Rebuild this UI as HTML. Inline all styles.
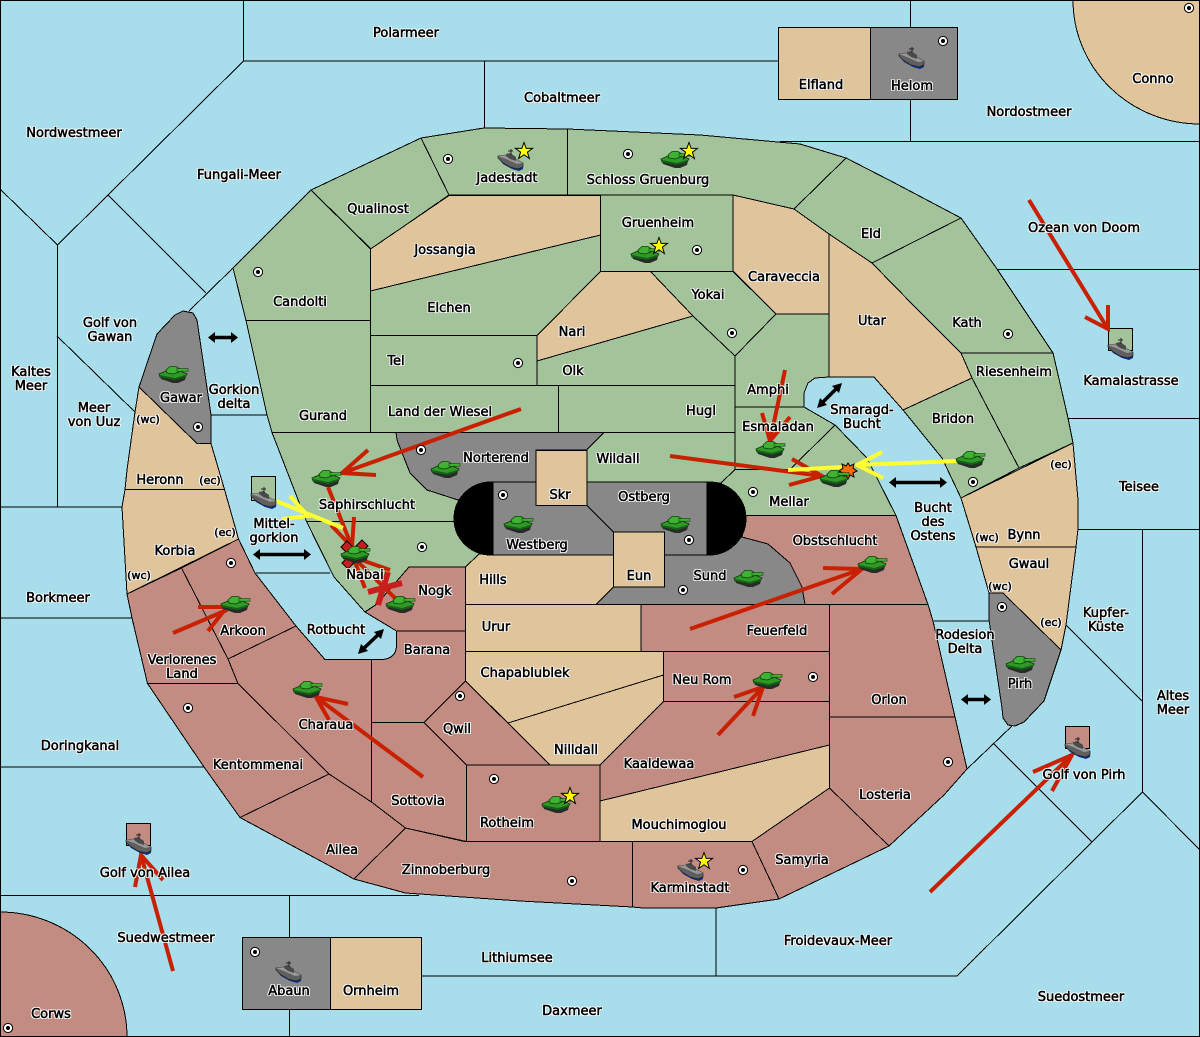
<!DOCTYPE html>
<html><head><meta charset="utf-8"><title>Map</title>
<style>
html,body{margin:0;padding:0;background:#a8ddeb}
#m{position:relative;width:1200px;height:1037px;overflow:hidden}
svg{position:absolute;left:0;top:0}
i{position:absolute;width:200px;margin-left:-100px;margin-top:2px;text-align:center;font:normal 13px/14px "DejaVu Sans",sans-serif;color:#000;-webkit-text-stroke:.55px #000;text-shadow:1px 0 #fff,-1px 0 #fff,0 1px #fff,0 -1px #fff,1px 1px #fff,-1px -1px #fff,1px -1px #fff,-1px 1px #fff;white-space:nowrap}
i.s{font-size:11px;margin-top:1px}
.g polygon,.g path,.g rect{stroke:#000;stroke-width:1}
.G{fill:#a3c49a}.T{fill:#e0c49c}.R{fill:#c28c82}.N{fill:#888}
.l path{fill:none;stroke:#000;stroke-width:1}
.r path{fill:none;stroke:#c82000;stroke-width:4}
.y path{fill:none;stroke:#ffff33;stroke-width:4}
.k path{fill:none;stroke:#000;stroke-width:3.5}
.k polygon{fill:#000}
</style></head><body><div id="m">
<svg width="1200" height="1037" viewBox="0 0 1200 1037" xmlns="http://www.w3.org/2000/svg">
<defs>
<symbol id="tk" viewBox="0 0 29 17" width="29" height="17" overflow="visible">
<polygon points="1,10 2,13 14,17 19,17 26,14 27,10 15,11" fill="#2a2a2a"/>
<polygon points="0,8 7,5 21,5 28,8 26,11 16,14 1,11" fill="#2f9a25" stroke="#0f3f0b" stroke-width=".9"/>
<polygon points="1,9 16,12 26,9 26,11 16,14 1,11" fill="#17601a"/>
<polygon points="7,4 11,.5 17,.5 21,3 20,6 14,8 8,7" fill="#3fb233" stroke="#0f3f0b" stroke-width=".8"/>
<rect x="18" y="2.6" width="11" height="2.6" fill="#3fb233" stroke="#0f3f0b" stroke-width=".6"/>
</symbol>
<symbol id="sh" viewBox="0 0 25 22" width="25" height="22" overflow="visible">
<polygon points="0,9 5,15 14,20 21,22 25,20 25,16 10,11" fill="#0b2d8c"/>
<polygon points="0,7 9,6 25,14 25,18 20,20 12,18 4,13 0,9" fill="#5f5f5f" stroke="#222" stroke-width=".7"/>
<polygon points="0,7 9,6 25,14 19,15 8,10" fill="#999"/>
<polygon points="8,5 12,4 18,8 18,12 12,10 8,7" fill="#4a4a4a"/>
<path d="M13,0V6M10,2H15" stroke="#222" fill="none" stroke-width="1"/>
</symbol>
<symbol id="st" viewBox="-9 -9 18 18" width="18" height="18" overflow="visible">
<polygon points="0,-8.5 2.2,-2.6 8.5,-2.6 3.4,1.2 5.4,7.5 0,3.7 -5.4,7.5 -3.4,1.2 -8.5,-2.6 -2.2,-2.6" fill="#ffff00" stroke="#000" stroke-width="1"/>
</symbol>
<symbol id="sc" viewBox="-5 -5 10 10" width="10" height="10" overflow="visible">
<circle r="4.6" fill="#fff" stroke="#000" stroke-width="1"/><circle r="2" fill="#000"/>
</symbol>
</defs>
<rect width="1200" height="1037" fill="#a8ddeb"/>

<g class="l" shape-rendering="crispEdges">
<path d="M243.5,0V61H778M484.5,61V128M243.5,61L57.5,245L0,189M57.5,245V507M108,195L206,293M189,311L233,268M57,336L135,412M211,415H267M0,507H122M0,618H132M0,767H204M256,573H330M934,621H989M1012,726L967,769M994,744L1092,842L1142.5,792L1200,850M1092,842L957,976H422M716,908V976M0,895.5H419M289.5,895V937M289.5,1009V1037M910.5,0V27M910.5,99V141M780,141.5H1200M997,269.5H1200M1068,418.5H1200M1078,529.5H1200M1142.5,529V792M1066,625L1142,701"/>
</g>

<g class="g" shape-rendering="crispEdges">
<path class="T" d="M1073,0A127,124 0 0 0 1200,124V0Z"/>
<path class="R" d="M0,912A127,125 0 0 1 127,1037H0Z"/>
<rect class="T" x="778.5" y="27.5" width="92" height="72"/>
<rect class="N" x="870.5" y="27.5" width="87" height="72"/>
<rect class="N" x="242.5" y="937.5" width="88" height="72"/>
<rect class="T" x="330.5" y="937.5" width="91" height="72"/>
<polygon class="G" points="311,190 421,138 449,195 371,249"/>
<polygon class="G" points="421,138 484,128 567.5,129 567.5,195 449,195"/>
<polygon class="G" points="567.5,129 700,135 800,144 846,158 794,209 733,195 567.5,195"/>
<polygon class="G" points="846,158 889,180 961,218 872,263 829,234 794,209"/>
<polygon class="G" points="961,218 997,269 1053,353 961,353 915,307 872,263"/>
<polygon class="T" points="829,234 872,263 915,307 961,353 972,378 903,410 874,377 829,377"/>
<polygon class="G" points="961,353 1053,353 1068,418 1073,443 1019,468 972,378"/>
<polygon class="G" points="903,410 972,378 1019,468 961,498 942,458"/>
<polygon class="T" points="961,498 1073,443 1078,500 1078,529 1076,547 976,547"/>
<polygon class="T" points="976,547 1076,547 1066,625 1061,650 1003,593 989,593"/>
<polygon class="N" points="989,593 1003,593 1061,650 1044,701 1024,722 1015,726 1008,725 1003,718 1002,708 989,620"/>
<polygon class="T" points="733,195 794,209 829,234 829,314 776,314 733,271"/>
<polygon class="G" points="600.5,195 733,195 733,271.5 600.5,271.5"/>
<polygon class="G" points="650.5,271.5 733,271.5 776,314 735,356 693,316"/>
<polygon class="T" points="600.5,271.5 650.5,271.5 693,316 537,361 537,335"/>
<polygon class="G" points="537,361 693,316 735,356 735,385.5 537,385.5"/>
<polygon class="G" points="558.5,385.5 735,385.5 735,432.5 558.5,432.5"/>
<polygon class="G" points="370.5,385.5 558.5,385.5 558.5,432.5 370.5,432.5"/>
<polygon class="G" points="370.5,335.5 537,335.5 537,385.5 370.5,385.5"/>
<polygon class="G" points="370.5,291 400,283 600.5,235 600.5,271.5 537,335.5 370.5,335.5"/>
<polygon class="T" points="370.5,249 449,195.5 600.5,195.5 600.5,235 370.5,291"/>
<polygon class="G" points="233,268 311,190 370.5,249 370.5,320.5 246,320.5"/>
<polygon class="G" points="246,320.5 370.5,320.5 370.5,432.5 272,432.5 267,415"/>
<polygon class="G" points="735,356 776,314 829,314 829,377 815,378 808,383 804,393 804,407 735,407"/>
<polygon class="G" points="735,407 804,407 835,425 790,469.5 735,469.5"/>
<polygon class="G" points="604,432.5 735,432.5 735,469.5 721,483 707,482 586.5,482 586.5,450"/>
<polygon class="G" points="735,469.5 790,469.5 835,425 867,458 878,480 896,515.5 746,515.5 721,483"/>
<polygon class="N" points="396,432.5 604,432.5 586.5,450 536,450 536,482 493,482 458,500 427,490 410,473 397,440"/>
<polygon class="G" points="272,432.5 396,432.5 397,440 410,473 427,490 458,500 470,521.5 306.5,521.5"/>
<polygon class="G" points="306.5,521.5 470,521.5 490,540 479,554 465.5,567 409,567 377,604 365,612 334,577"/>
<polygon class="R" points="409,567 465.5,567 465.5,631 396.5,631 365,612 377,604"/>
<polygon class="T" points="465.5,567 479,554 613.5,554 613.5,587 596,604.5 465.5,604.5"/>
<polygon class="T" points="465.5,604.5 641,604.5 641,651.5 465.5,651.5"/>
<polygon class="T" points="465.5,651.5 663.5,651.5 663.5,675 508,723 465.5,681"/>
<polygon class="T" points="508,723 663.5,675 663.5,701.5 600,765 550,765"/>
<polygon class="R" points="641,604.5 829.5,604.5 829.5,651.5 641,651.5"/>
<polygon class="R" points="663.5,651.5 829.5,651.5 829.5,701.5 663.5,701.5"/>
<polygon class="R" points="663.5,701.5 829.5,701.5 829.5,745 600,801 600,765"/>
<polygon class="T" points="600,801 829.5,745 829.5,788 752,841.5 600,841.5"/>
<polygon class="R" points="829.5,788 889,846 779,899 752,841.5"/>
<polygon class="R" points="829.5,717 955,717 967,769 944,795 889,846 829.5,788"/>
<polygon class="R" points="829.5,604.5 928,604.5 933,621 955,717 829.5,717"/>
<polygon class="R" points="746,515.5 896,515.5 928,604.5 805,604.5 802,587 790,563 768,544 742,537"/>
<polygon class="N" points="664,555 709,555 742,537 768,544 790,563 802,587 805,604.5 596,604.5 613.5,587 664,587"/>
<polygon class="R" points="632.5,841.5 752,841.5 779,899 716,908 643,908 632.5,907"/>
<polygon class="R" points="405.5,828 464.5,841.5 632.5,841.5 632.5,907 520,901 405.5,893 354,879"/>
<polygon class="R" points="240,817.5 329,774 371.5,802 405.5,828 354,879"/>
<polygon class="R" points="147.5,683.5 238,683.5 329,774 240,817.5 204,767"/>
<polygon class="R" points="371.5,722.5 424,722.5 466.5,765 466.5,841.5 405.5,828 371.5,802"/>
<polygon class="R" points="466.5,765 600,765 600,841.5 466.5,841.5"/>
<polygon class="R" points="465.5,681 550,765 466.5,765 424,722.5"/>
<path class="R" d="M396.5,631H465.5V681L424,722.5H371.5V659.5H383Q396,658 396.5,646Z"/>
<polygon class="R" points="228,659 296,626 325,659.5 371.5,659.5 371.5,802 329,774 238,683.5"/>
<polygon class="R" points="181.5,568 238.5,539 255,573 296,626 228,659"/>
<polygon class="R" points="127,594 181.5,568 228,659 238,683.5 147.5,683.5 132,618"/>
<polygon class="T" points="125,489.5 224.5,489.5 238.5,539 127,594 122,507"/>
<polygon class="T" points="139,387 197,443.5 211,443.5 224.5,489.5 125,489.5 127,470 135,412"/>
<polygon class="N" points="139,387 157,334 175,315 183,311 193,313 197,320 211,415 211,443.5 197,443.5"/>
<polygon class="N" points="493,482 536,482 536,505.5 587,505.5 613.5,532 613.5,555 493,555"/>
<polygon class="N" points="587,482 707,482 707,555 664,555 664,532 613.5,532 587,505.5"/>
<rect class="T" x="536" y="450.5" width="51" height="55"/>
<rect class="T" x="613.5" y="532" width="51" height="55"/>
<path d="M493,482H491A37,36.5 0 0 0 491,555H493Z" fill="#000"/>
<path d="M707,482H709A37,36.5 0 0 1 709,555H707Z" fill="#000"/>
<rect x="251.5" y="476.5" width="24" height="24" class="G"/>
<rect x="1108.5" y="328.5" width="24" height="22" class="G"/>
<rect x="1065.5" y="726.5" width="24" height="22" class="R"/>
<rect x="126.5" y="823.5" width="24" height="22" class="R"/>
</g>

<rect x=".5" y=".5" width="1199" height="1036" fill="none" stroke="#000"/>

<!-- double arrows -->
<g class="k">
<path d="M212,337.5H234"/><polygon points="208,337.5 215,332 215,343"/><polygon points="238,337.5 231,332 231,343"/>
<path d="M893,482.5H943"/><polygon points="889,482.5 896,477 896,488"/><polygon points="947,482.5 940,477 940,488"/>
<path d="M820,405L839,386" stroke-width="2.5"/><polygon points="817,408 820,398 827,405"/><polygon points="842,383 832,386 839,393"/>
<path d="M257,554.5H307"/><polygon points="253,554.5 260,549 260,560"/><polygon points="311,554.5 304,549 304,560"/>
<path d="M361,651L381,632" stroke-width="2.5"/><polygon points="358,654 361,644 368,651"/><polygon points="384,629 374,632 381,639"/>
<path d="M965,699.5H987"/><polygon points="961,699.5 968,694 968,705"/><polygon points="991,699.5 984,694 984,705"/>
</g>

<!-- arrows -->
<g class="r">
<path d="M1029,200L1108,329M1085,317L1108,329L1108,305"/>
<path d="M785,370L770,441M762,413L770,441L790,417"/>
<path d="M670,456L822,476M792,459L822,476L789,485"/>
<path d="M521,409L342,473M368,450L342,473L376,475"/>
<path d="M328,487L352,547M354,517L352,547L331,525"/>
<path d="M397,600L353,557M390,570L353,557L365,588"/>
<path d="M423,777L316,697M348,704L316,697L329,720"/>
<path d="M173,633L227,610M198,607H227L208,631"/>
<path d="M690,629L862,569M823,568L862,569L832,594"/>
<path d="M718,735L763,687M734,697L763,687L753,716"/>
<path d="M930,892L1072,755M1033,772L1072,755L1052,791"/>
<path d="M173,971L141,855M135,887L141,855L163,880"/>
</g>
<g class="y">
<path d="M957,461L857,465M882,452L857,465L883,478"/>
<path d="M788,470L843,467"/>
<path d="M276,501L343,528M290,496L308,516L282,519"/>
</g>
<g stroke="#c81e1e" stroke-width="6" fill="none"><path d="M388,572L378,605M368,592L402,583"/></g>
<polygon points="848,463 850,466 854,464 853,468 857,471 853,473 854,477 850,475 848,479 846,475 842,477 843,473 839,471 843,468 842,464 846,466" fill="#ff6a00" stroke="#000" stroke-width="1"/>
<g fill="#c81e1e" stroke="#000" stroke-width="1">
<polygon points="347,541 353,547 347,553 341,547"/>
<polygon points="362,540 368,546 362,552 356,546"/>
<polygon points="348,557 354,563 348,569 342,563"/>
</g>

<!-- units -->
<use href="#tk" x="159" y="366"/><use href="#tk" x="661" y="151"/><use href="#tk" x="631" y="246"/>
<use href="#tk" x="312" y="470"/><use href="#tk" x="431" y="461"/><use href="#tk" x="504" y="516"/>
<use href="#tk" x="661" y="516"/><use href="#tk" x="756" y="441"/><use href="#tk" x="820" y="470"/>
<use href="#tk" x="956" y="451"/><use href="#tk" x="858" y="556"/><use href="#tk" x="341" y="546"/>
<use href="#tk" x="386" y="596"/><use href="#tk" x="221" y="596"/><use href="#tk" x="293" y="681"/>
<use href="#tk" x="734" y="570"/><use href="#tk" x="753" y="672"/><use href="#tk" x="1006" y="656"/>
<use href="#tk" x="542" y="796"/>
<use href="#sh" x="899" y="47"/><use href="#sh" x="498" y="149"/><use href="#sh" x="1108" y="338"/>
<use href="#sh" x="251" y="487"/><use href="#sh" x="1065" y="737"/><use href="#sh" x="126" y="833"/>
<use href="#sh" x="276" y="961"/><use href="#sh" x="678" y="859"/>
<use href="#st" x="515" y="142"/><use href="#st" x="680" y="142"/><use href="#st" x="650" y="237"/><use href="#st" x="561" y="787"/><use href="#st" x="695" y="852"/>

<!-- supply centres -->
<use href="#sc" x="938" y="36"/><use href="#sc" x="1184" y="3"/><use href="#sc" x="443" y="154"/><use href="#sc" x="623" y="149"/>
<use href="#sc" x="692" y="245"/><use href="#sc" x="253" y="267"/><use href="#sc" x="727" y="328"/><use href="#sc" x="1003" y="329"/>
<use href="#sc" x="513" y="358"/><use href="#sc" x="193" y="422"/><use href="#sc" x="416" y="445"/><use href="#sc" x="968" y="477"/>
<use href="#sc" x="748" y="487"/><use href="#sc" x="498" y="490"/><use href="#sc" x="684" y="535"/><use href="#sc" x="417" y="542"/>
<use href="#sc" x="226" y="558"/><use href="#sc" x="678" y="585"/><use href="#sc" x="997" y="602"/><use href="#sc" x="808" y="672"/>
<use href="#sc" x="455" y="691"/><use href="#sc" x="183" y="703"/><use href="#sc" x="943" y="757"/><use href="#sc" x="489" y="774"/>
<use href="#sc" x="567" y="876"/><use href="#sc" x="738" y="865"/><use href="#sc" x="250" y="947"/><use href="#sc" x="3" y="1023"/>
</svg>

<i style="left:406px;top:25px">Polarmeer</i>
<i style="left:562px;top:90px">Cobaltmeer</i>
<i style="left:821px;top:77px">Elfland</i>
<i style="left:912px;top:78px">Helom</i>
<i style="left:1153px;top:71px">Conno</i>
<i style="left:1029px;top:104px">Nordostmeer</i>
<i style="left:74px;top:125px">Nordwestmeer</i>
<i style="left:239px;top:167px">Fungali-Meer</i>
<i style="left:378px;top:201px">Qualinost</i>
<i style="left:507px;top:170px">Jadestadt</i>
<i style="left:648px;top:172px">Schloss Gruenburg</i>
<i style="left:658px;top:215px">Gruenheim</i>
<i style="left:445px;top:242px">Jossangia</i>
<i style="left:871px;top:226px">Eld</i>
<i style="left:1084px;top:220px">Ozean von Doom</i>
<i style="left:784px;top:269px">Caraveccia</i>
<i style="left:708px;top:287px">Yokai</i>
<i style="left:300px;top:294px">Candolti</i>
<i style="left:449px;top:300px">Elchen</i>
<i style="left:872px;top:313px">Utar</i>
<i style="left:967px;top:315px">Kath</i>
<i style="left:572px;top:324px">Nari</i>
<i style="left:110px;top:315px">Golf von<br>Gawan</i>
<i style="left:396px;top:353px">Tel</i>
<i style="left:573px;top:363px">Olk</i>
<i style="left:1014px;top:364px">Riesenheim</i>
<i style="left:31px;top:364px">Kaltes<br>Meer</i>
<i style="left:1131px;top:373px">Kamalastrasse</i>
<i style="left:768px;top:382px">Amphi</i>
<i style="left:181px;top:390px">Gawar</i>
<i style="left:234px;top:382px">Gorkion<br>delta</i>
<i style="left:94px;top:400px">Meer<br>von Uuz</i>
<i class="s" style="left:148px;top:412px">(wc)</i>
<i style="left:323px;top:408px">Gurand</i>
<i style="left:440px;top:404px">Land der Wiesel</i>
<i style="left:701px;top:403px">Hugl</i>
<i style="left:862px;top:402px">Smaragd-<br>Bucht</i>
<i style="left:953px;top:411px">Bridon</i>
<i style="left:778px;top:419px">Esmaladan</i>
<i style="left:496px;top:450px">Norterend</i>
<i style="left:618px;top:451px">Wildall</i>
<i class="s" style="left:1061px;top:457px">(ec)</i>
<i style="left:160px;top:472px">Heronn</i>
<i class="s" style="left:210px;top:473px">(ec)</i>
<i style="left:1139px;top:479px">Teisee</i>
<i style="left:644px;top:489px">Ostberg</i>
<i style="left:560px;top:487px">Skr</i>
<i style="left:789px;top:494px">Mellar</i>
<i style="left:367px;top:497px">Saphirschlucht</i>
<i style="left:933px;top:500px">Bucht<br>des<br>Ostens</i>
<i style="left:274px;top:516px">Mittel-<br>gorkion</i>
<i class="s" style="left:225px;top:525px">(ec)</i>
<i style="left:1024px;top:527px">Bynn</i>
<i class="s" style="left:987px;top:530px">(wc)</i>
<i style="left:537px;top:537px">Westberg</i>
<i style="left:835px;top:533px">Obstschlucht</i>
<i style="left:175px;top:543px">Korbia</i>
<i style="left:1029px;top:556px">Gwaul</i>
<i style="left:365px;top:567px">Nabai</i>
<i style="left:639px;top:568px">Eun</i>
<i style="left:710px;top:568px">Sund</i>
<i class="s" style="left:139px;top:568px">(wc)</i>
<i style="left:493px;top:572px">Hills</i>
<i class="s" style="left:1000px;top:579px">(wc)</i>
<i style="left:435px;top:583px">Nogk</i>
<i style="left:58px;top:590px">Borkmeer</i>
<i style="left:1106px;top:605px">Kupfer-<br>Küste</i>
<i class="s" style="left:1051px;top:615px">(ec)</i>
<i style="left:496px;top:619px">Urur</i>
<i style="left:777px;top:623px">Feuerfeld</i>
<i style="left:336px;top:622px">Rotbucht</i>
<i style="left:243px;top:623px">Arkoon</i>
<i style="left:965px;top:627px">Rodesion<br>Delta</i>
<i style="left:427px;top:642px">Barana</i>
<i style="left:182px;top:652px">Verlorenes<br>Land</i>
<i style="left:525px;top:665px">Chapablublek</i>
<i style="left:702px;top:672px">Neu Rom</i>
<i style="left:1020px;top:676px">Pirh</i>
<i style="left:1173px;top:688px">Altes<br>Meer</i>
<i style="left:889px;top:692px">Orlon</i>
<i style="left:326px;top:717px">Charaua</i>
<i style="left:457px;top:721px">Qwil</i>
<i style="left:80px;top:738px">Doringkanal</i>
<i style="left:576px;top:742px">Nilldall</i>
<i style="left:659px;top:756px">Kaaldewaa</i>
<i style="left:258px;top:757px">Kentommenai</i>
<i style="left:1084px;top:767px">Golf von Pirh</i>
<i style="left:885px;top:787px">Losteria</i>
<i style="left:418px;top:793px">Sottovia</i>
<i style="left:507px;top:815px">Rotheim</i>
<i style="left:679px;top:817px">Mouchimoglou</i>
<i style="left:342px;top:842px">Ailea</i>
<i style="left:802px;top:852px">Samyria</i>
<i style="left:446px;top:862px">Zinnoberburg</i>
<i style="left:145px;top:865px">Golf von Ailea</i>
<i style="left:690px;top:880px">Karminstadt</i>
<i style="left:166px;top:930px">Suedwestmeer</i>
<i style="left:838px;top:933px">Froidevaux-Meer</i>
<i style="left:517px;top:950px">Lithiumsee</i>
<i style="left:289px;top:983px">Abaun</i>
<i style="left:371px;top:983px">Ornheim</i>
<i style="left:1081px;top:989px">Suedostmeer</i>
<i style="left:572px;top:1003px">Daxmeer</i>
<i style="left:51px;top:1006px">Corws</i>
</div></body></html>
